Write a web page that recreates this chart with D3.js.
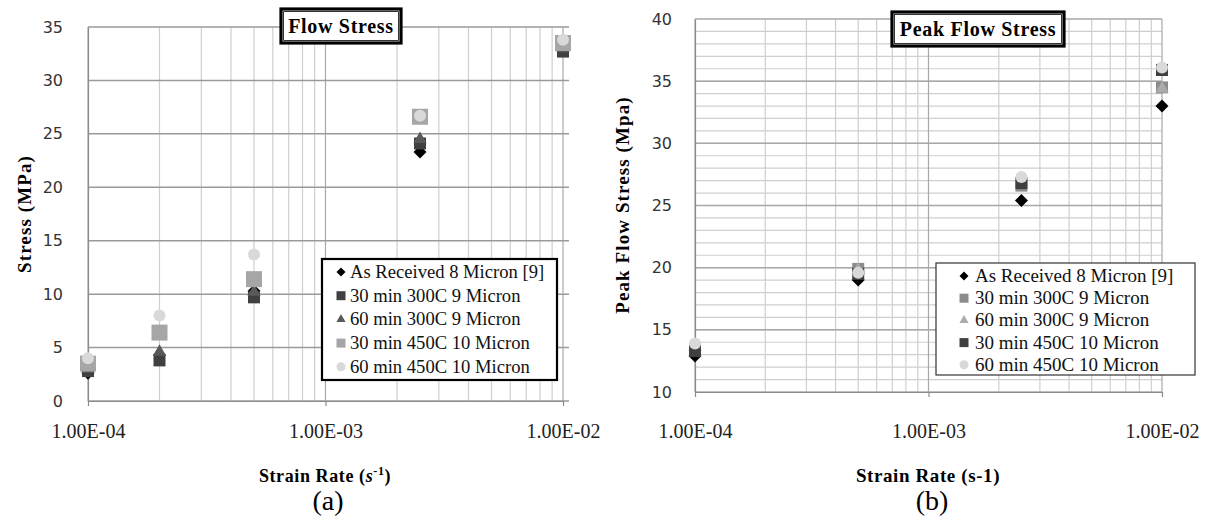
<!DOCTYPE html>
<html>
<head>
<meta charset="utf-8">
<script src="https://cdn.jsdelivr.net/npm/d3@7"></script>
<style>
  body { margin: 0; background: #fff; }
  svg { display: block; }
</style>
</head>
<body>
<div id="chart"></div>
<script>
// ---------- data ----------
const seriesNames = [
    "As Received 8 Micron [9]",
    "30 min 300C 9 Micron",
    "60 min 300C 9 Micron",
    "30 min 450C 10 Micron",
    "60 min 450C 10 Micron"
];

// panel (a) : Flow Stress
const ratesA = [1e-4, 2e-4, 5e-4, 2.5e-3, 1e-2];
const asReceivedA = [2.6, 4.3, 10.3, 23.3, 32.8];
const min30c300A  = [2.8, 3.8, 9.7, 24.1, 32.7];
const min60c300A  = [3.0, 4.6, 10.2, 24.5, 33.0];
const min30c450A  = [3.5, 6.4, 11.4, 26.6, 33.5];
const min60c450A  = [4.0, 8.0, 13.7, 26.7, 33.8];
const yTicksA = [0, 5, 10, 15, 20, 25, 30, 35];

// panel (b) : Peak Flow Stress
const ratesB = [1e-4, 5e-4, 2.5e-3, 1e-2];
const asReceivedB = [12.9, 19.0, 25.4, 33.0];
const min30c300B  = [13.5, 19.9, 26.6, 34.5];
const min60c300B  = [13.6, 19.8, 26.9, 34.4];
const min30c450B  = [13.3, 19.5, 26.8, 35.9];
const min60c450B  = [13.9, 19.6, 27.3, 36.1];
const yTicksB = [10, 15, 20, 25, 30, 35, 40];

const xTickVals = [1e-4, 1e-3, 1e-2];
const xTickLabels = ["1.00E-04", "1.00E-03", "1.00E-02"];

// ---------- svg ----------
const svg = d3.select("#chart").append("svg")
    .attr("width", 1210)
    .attr("height", 520);

svg.append("rect").attr("width", 1210).attr("height", 520).attr("fill", "#fff");

const serif = "'Liberation Serif', 'Times New Roman', serif";
const sans = "'DejaVu Sans', Verdana, sans-serif";

function marker(g, kind, size, color) {
    // size = visual width in px
    let p;
    if (kind === "diamond") {
        p = g.append("path")
            .attr("d", d3.symbol(d3.symbolSquare, (size / Math.SQRT2) ** 2)())
            .attr("transform", "rotate(45)");
    } else if (kind === "square") {
        p = g.append("path").attr("d", d3.symbol(d3.symbolSquare, size * size)());
    } else if (kind === "triangle") {
        p = g.append("path").attr("d", d3.symbol(d3.symbolTriangle, size * size * 0.45)());
    } else {
        p = g.append("path").attr("d", d3.symbol(d3.symbolCircle, Math.PI * size * size / 4)());
    }
    p.attr("fill", color);
    return p;
}

function drawPanel(cfg) {
    const x = d3.scaleLog().domain([1e-4, 1e-2]).range(cfg.xRange);
    const y = d3.scaleLinear().domain(cfg.yDomain).range(cfg.yRange);
    const g = svg.append("g");
    const [x0, x1] = cfg.xRange;
    const [yb, yt] = cfg.yRange;

    const grid = g.append("g");

    // horizontal minor grid
    cfg.yMinor.forEach(v => {
        grid.append("line")
            .attr("x1", x0).attr("x2", cfg.gridRight)
            .attr("y1", y(v)).attr("y2", y(v))
            .attr("stroke", "#cfcfcf")
            .attr("stroke-width", 1.2);
    });

    // vertical grid (log minors + decades)
    grid.selectAll("line.v")
        .data(x.ticks())
        .enter().append("line")
        .attr("class", "v")
        .attr("x1", d => x(d)).attr("x2", d => x(d))
        .attr("y1", yt).attr("y2", yb)
        .attr("stroke", d => xTickVals.includes(d) ? "#a8a8a8" : "#cfcfcf")
        .attr("stroke-width", 1.2);

    // horizontal major grid
    cfg.yTicks.forEach(v => {
        grid.append("line")
            .attr("x1", x0).attr("x2", cfg.gridRight)
            .attr("y1", y(v)).attr("y2", y(v))
            .attr("stroke", cfg.majorColor)
            .attr("stroke-width", 1.5);
    });

    // axes
    const yAxis = g.append("g")
        .attr("transform", `translate(${x0},0)`)
        .call(d3.axisLeft(y).tickValues(cfg.yTicks).tickSize(0).tickPadding(cfg.yPad));
    yAxis.select(".domain").attr("stroke", "#8c8c8c").attr("stroke-width", 1.2);
    yAxis.selectAll("text")
        .attr("font-family", sans).attr("font-size", 16).attr("fill", "#333");

    const xAxis = g.append("g")
        .attr("transform", `translate(0,${yb})`)
        .call(d3.axisBottom(x).tickValues(xTickVals)
            .tickFormat((d, i) => xTickLabels[i])
            .tickSize(5).tickSizeOuter(0).tickPadding(cfg.xPad));
    xAxis.select(".domain").attr("stroke", "#8c8c8c").attr("stroke-width", 1.2);
    xAxis.selectAll(".tick line").attr("stroke", "#8c8c8c").attr("stroke-width", 1.2);
    xAxis.selectAll("text")
        .attr("font-family", serif).attr("font-size", 20).attr("fill", "#222");

    // points
    cfg.series.forEach(s => {
        const pg = g.append("g");
        s.values.forEach((v, i) => {
            const m = pg.append("g")
                .attr("transform", `translate(${x(cfg.rates[i])},${y(v)})`);
            marker(m, s.shape, s.size, s.color);
        });
    });

    // title box
    const tb = cfg.titleBox;
    g.append("rect")
        .attr("x", tb[0]).attr("y", tb[1]).attr("width", tb[2]).attr("height", tb[3])
        .attr("fill", "#fff").attr("stroke", "#000").attr("stroke-width", 3.2);
    g.append("rect")
        .attr("x", tb[0] + 2.6).attr("y", tb[1] + 2.6).attr("width", tb[2] - 5.2).attr("height", tb[3] - 5.2)
        .attr("fill", "none").attr("stroke", "#000").attr("stroke-width", 0.8);
    g.append("text")
        .attr("x", tb[0] + tb[2] / 2).attr("y", tb[1] + tb[3] / 2 + 7)
        .attr("text-anchor", "middle")
        .attr("font-family", serif).attr("font-weight", "bold")
        .attr("font-size", 20).attr("letter-spacing", 0.7)
        .text(cfg.title);

    // legend
    const lb = cfg.legendBox;
    const lg = g.append("g");
    lg.append("rect")
        .attr("x", lb[0]).attr("y", lb[1]).attr("width", lb[2]).attr("height", lb[3])
        .attr("fill", "#fff").attr("stroke", cfg.legendStroke).attr("stroke-width", cfg.legendStrokeW);
    cfg.series.forEach((s, i) => {
        const ly = cfg.legendY0 + i * cfg.legendStep;
        const m = lg.append("g").attr("transform", `translate(${cfg.legendMarkX},${ly})`);
        marker(m, s.shape, s.legendSize, s.color);
        lg.append("text")
            .attr("x", cfg.legendTextX).attr("y", ly + 6)
            .attr("font-family", serif).attr("font-size", cfg.legendFont)
            .attr("fill", "#111")
            .text(s.name);
    });

    // axis titles
    g.append("text")
        .attr("transform", `translate(${cfg.yTitlePos[0]},${cfg.yTitlePos[1]}) rotate(-90)`)
        .attr("text-anchor", "middle")
        .attr("font-family", serif).attr("font-weight", "bold")
        .attr("font-size", 19).attr("letter-spacing", 1.1)
        .text(cfg.yTitle);

    const xt = g.append("text")
        .attr("x", cfg.xTitlePos[0]).attr("y", cfg.xTitlePos[1])
        .attr("text-anchor", "middle")
        .attr("font-family", serif).attr("font-weight", "bold")
        .attr("font-size", cfg.xTitleFont).attr("letter-spacing", 0.6);
    cfg.xTitleParts(xt);

    g.append("text")
        .attr("x", cfg.capPos[0]).attr("y", cfg.capPos[1])
        .attr("text-anchor", "middle")
        .attr("font-family", serif).attr("font-size", 28)
        .text(cfg.caption);
}

drawPanel({
    xRange: [88, 563], yRange: [401, 27], yDomain: [0, 35], gridRight: 569,
    yTicks: yTicksA, yMinor: [], majorColor: "#9a9a9a", yPad: 25, xPad: 18,
    rates: ratesA,
    series: [
        { name: seriesNames[0], values: asReceivedA, shape: "diamond", size: 13, legendSize: 9, color: "#000" },
        { name: seriesNames[1], values: min30c300A, shape: "square", size: 12, legendSize: 9, color: "#404040" },
        { name: seriesNames[2], values: min60c300A, shape: "triangle", size: 13, legendSize: 9, color: "#595959" },
        { name: seriesNames[3], values: min30c450A, shape: "square", size: 16, legendSize: 9, color: "#a6a6a6" },
        { name: seriesNames[4], values: min60c450A, shape: "circle", size: 12, legendSize: 9, color: "#d9d9d9" }
    ],
    title: "Flow Stress", titleBox: [281, 9, 120, 34],
    legendBox: [322, 259, 235, 121], legendStroke: "#000", legendStrokeW: 2.2,
    legendY0: 272, legendStep: 23.7, legendMarkX: 341, legendTextX: 350, legendFont: 18.6,
    yTitle: "Stress (MPa)", yTitlePos: [31, 214],
    xTitlePos: [325, 482], xTitleFont: 18,
    xTitleParts: t => {
        t.append("tspan").text("Strain Rate (");
        t.append("tspan").attr("font-style", "italic").text("s");
        t.append("tspan").attr("font-size", 12).attr("dy", -7).text("-1");
        t.append("tspan").attr("dy", 7).text(")");
    },
    caption: "(a)", capPos: [328, 510]
});

drawPanel({
    xRange: [695, 1162], yRange: [392, 19], yDomain: [10, 40], gridRight: 1162,
    yTicks: yTicksB, yMinor: d3.range(11, 40), majorColor: "#a8a8a8", yPad: 23, xPad: 27,
    rates: ratesB,
    series: [
        { name: seriesNames[0], values: asReceivedB, shape: "diamond", size: 13, legendSize: 9, color: "#000" },
        { name: seriesNames[1], values: min30c300B, shape: "square", size: 12, legendSize: 9, color: "#8c8c8c" },
        { name: seriesNames[2], values: min60c300B, shape: "triangle", size: 13, legendSize: 9, color: "#ababab" },
        { name: seriesNames[3], values: min30c450B, shape: "square", size: 12, legendSize: 9, color: "#404040" },
        { name: seriesNames[4], values: min60c450B, shape: "circle", size: 12, legendSize: 9, color: "#d9d9d9" }
    ],
    title: "Peak Flow Stress", titleBox: [892, 12, 172, 34],
    legendBox: [936, 263, 259, 112], legendStroke: "#333", legendStrokeW: 1.2,
    legendY0: 276, legendStep: 22.2, legendMarkX: 964, legendTextX: 975, legendFont: 19,
    yTitle: "Peak Flow Stress (Mpa)", yTitlePos: [629, 205],
    xTitlePos: [928, 482], xTitleFont: 19,
    xTitleParts: t => { t.text("Strain Rate (s-1)"); },
    caption: "(b)", capPos: [932, 510]
});
</script>
</body>
</html>
